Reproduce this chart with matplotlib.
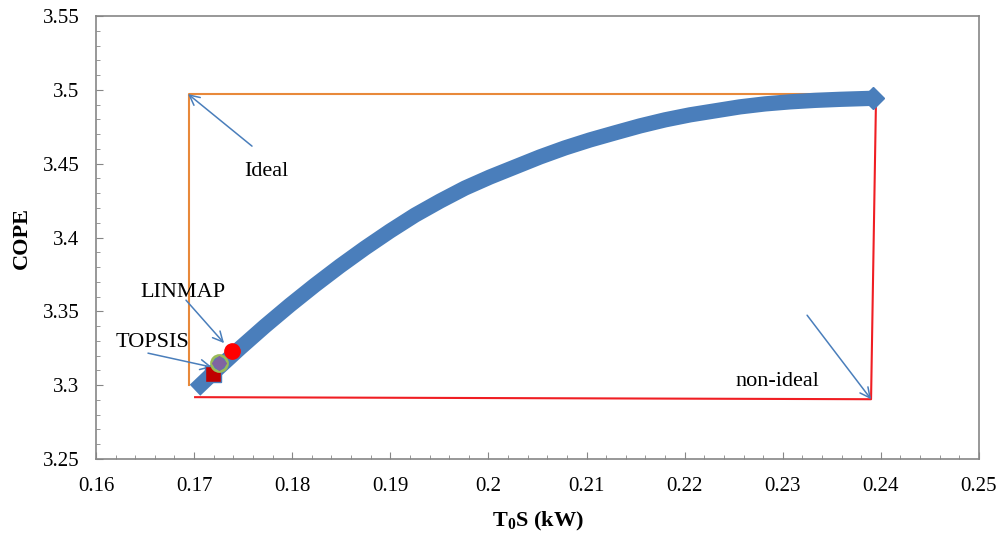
import matplotlib
matplotlib.use('Agg')
import matplotlib.pyplot as plt
from matplotlib.ticker import MultipleLocator

# pareto front
front_x = [0.17009, 0.17213, 0.17468, 0.17722, 0.17978, 0.18232, 0.18487,
           0.18742, 0.18997, 0.19252, 0.19507, 0.19761, 0.20016, 0.20271,
           0.20526, 0.20780, 0.21035, 0.21290, 0.21545, 0.21800, 0.22055,
           0.22309, 0.22564, 0.22819, 0.23074, 0.23328, 0.23584, 0.23920]
front_y = [3.2966, 3.3095, 3.3251, 3.3400, 3.3543, 3.3678, 3.3807,
           3.3929, 3.4044, 3.4152, 3.4247, 3.4335, 3.4410, 3.4478,
           3.4546, 3.4607, 3.4661, 3.4709, 3.4756, 3.4797, 3.4831,
           3.4858, 3.4885, 3.4905, 3.4919, 3.4929, 3.4936, 3.4943]

# ideal / non-ideal box lines
ideal_x = [0.1695, 0.1695, 0.2391]
ideal_y = [3.300, 3.4972, 3.4972]
nonideal_x = [0.1701, 0.2390, 0.2395]
nonideal_y = [3.2919, 3.2905, 3.4917]

# decision points
linmap = (0.17386, 3.3230)
topsis = (0.17254, 3.3149)
other = (0.17190, 3.3078)

# labels: text, text position, arrow tail, arrow head
labels = [
    ('Ideal', (0.17733, 3.445), (0.17590, 3.4619), (0.16938, 3.4972)),
    ('non-ideal', (0.22942, 3.3027), (0.23248, 3.3474), (0.23900, 3.2905)),
    ('LINMAP', (0.16887, 3.363), (0.16917, 3.3576), (0.17305, 3.3285)),
    ('TOPSIS', (0.16571, 3.329), (0.16530, 3.3217), (0.17182, 3.3122)),
]

plt.rcParams['font.family'] = ['Liberation Serif', 'DejaVu Serif']
plt.rcParams['mathtext.fontset'] = 'custom'
plt.rcParams['mathtext.rm'] = 'Liberation Serif'
plt.rcParams['mathtext.bf'] = 'Liberation Serif:bold'

fig = plt.figure(figsize=(9.96, 5.44), dpi=100)
ax = fig.add_axes([0.0964, 0.1562, 0.8865, 0.8143])

blue = '#4A7EBB'
ax.plot(ideal_x, ideal_y, color='#E8893A', lw=1.5, zorder=2)
ax.plot(nonideal_x, nonideal_y, color='#F01E23', lw=1.5, zorder=2)
ax.plot(front_x, front_y, color=blue, lw=11, solid_capstyle='butt',
        solid_joinstyle='round', zorder=3)
ax.plot(front_x[-1:], front_y[-1:], marker='D', ms=11, color=blue, zorder=3)

ax.plot(*other, marker='s', ms=12, color='#C00000', mec=blue, mew=1, zorder=4)
ax.plot(*topsis, marker='o', ms=11.5, color=blue, mec='#9BBB59', mew=2, zorder=5)
ax.plot(*topsis, marker='D', ms=7, color='#8064A2', mec='#8064A2', zorder=6)
ax.plot(*linmap, marker='o', ms=11, color='#FF0000', mec='#FF0000', zorder=5)

for txt, tpos, tail, head in labels:
    ax.text(tpos[0], tpos[1], txt, fontsize=16, ha='center', va='center')
    ax.annotate('', xy=head, xytext=tail,
                arrowprops=dict(arrowstyle='->', color=blue, lw=1.1,
                                mutation_scale=18, shrinkA=0, shrinkB=0))

ax.set_xlim(0.16, 0.25)
ax.set_ylim(3.25, 3.55)
ax.xaxis.set_minor_locator(MultipleLocator(0.002))
ax.yaxis.set_minor_locator(MultipleLocator(0.01))
ax.set_xticks([0.16 + 0.01 * i for i in range(10)])
ax.set_xticklabels(['0.16', '0.17', '0.18', '0.19', '0.2', '0.21', '0.22',
                    '0.23', '0.24', '0.25'])
ax.set_yticks([3.25 + 0.05 * i for i in range(7)])
ax.set_yticklabels(['3.25', '3.3', '3.35', '3.4', '3.45', '3.5', '3.55'])

for s in ax.spines.values():
    s.set_color('#868686')
    s.set_linewidth(1.2)
ax.tick_params(which='both', direction='in', color='#868686', labelsize=15)
ax.tick_params(axis='x', pad=13)
ax.tick_params(axis='y', pad=12)
ax.tick_params(which='major', length=5)
ax.tick_params(which='minor', length=3)

ax.set_xlabel(r'T$_\mathbf{0}$S (kW)', fontsize=16, fontweight='bold', labelpad=10)
ax.set_ylabel('COPE', fontsize=16, fontweight='bold', labelpad=8)

fig.savefig('out.png', dpi=100)
